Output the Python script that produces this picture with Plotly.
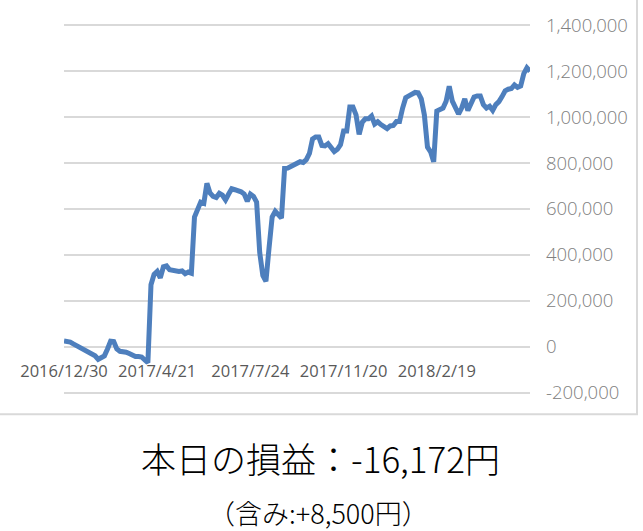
import plotly.graph_objects as go

# ---- data (values in yen) ----
profit_values = [
    25000, 23000, 20000, 12000, 5000, -4000, -10000, -15000, -22000, -30000,
    -40000, -55000, -45000, -40000, -10000, 24000, 22000, -10000, -20000, -20000,
    -24000, -30000, -37000, -43000, -43000, -45000, -58000, -70000, 270000, 315000,
    328000, 300000, 348000, 352000, 335000, 332000, 332000, 328000, 330000, 318000,
    325000, 320000, 565000, 595000, 630000, 625000, 712000, 670000, 655000, 650000,
    668000, 660000, 640000, 665000, 688000, 684000, 682000, 675000, 665000, 634000,
    665000, 655000, 630000, 410000, 310000, 285000, 430000, 565000, 590000, 575000,
    560000, 777000, 778000, 785000, 791000, 800000, 806000, 803000, 815000, 842000,
    905000, 914000, 914000, 877000, 875000, 885000, 871000, 850000, 860000, 880000,
    940000, 940000, 1045000, 1045000, 1010000, 925000, 978000, 993000, 993000, 1005000,
    970000, 980000, 968000, 957000, 950000, 962000, 964000, 981000, 981000, 1040000,
    1085000, 1093000, 1100000, 1108000, 1106000, 1080000, 1010000, 870000, 849000, 806000,
    1027000, 1032000, 1040000, 1070000, 1135000, 1070000, 1040000, 1014000, 1040000, 1080000,
    1029000, 1055000, 1088000, 1093000, 1093000, 1055000, 1040000, 1048000, 1030000, 1055000,
    1068000, 1090000, 1115000, 1122000, 1125000, 1141000, 1130000, 1136000, 1190000, 1215000,
    1200000,
]
x_index = list(range(len(profit_values)))

x_tick_index = [0, 30, 60, 90, 120]
x_tick_labels = ["2016/12/30", "2017/4/21", "2017/7/24", "2017/11/20", "2018/2/19"]

y_tick_values = [-200000, 0, 200000, 400000, 600000, 800000, 1000000, 1200000, 1400000]
y_tick_labels = ["-200,000", "0", "200,000", "400,000", "600,000", "800,000",
                 "1,000,000", "1,200,000", "1,400,000"]

title_main = "本日の損益：-16,172円"
title_sub = "（含み:+8,500円）"

# ---- figure ----
fig = go.Figure()
fig.add_trace(go.Scatter(
    x=x_index, y=profit_values, mode="lines",
    line=dict(color="#4e7fbd", width=5),
    hoverinfo="skip", showlegend=False,
))

Y0, Y1 = -215000, 1415000
top_px, bot_px = 22, 393
ppu = (bot_px - top_px) / 1600000.0
t_m = top_px - (Y1 - 1400000) * ppu
b_m = 531 - (bot_px + (-200000 - Y0) * ppu)
plot_h = 531 - t_m - b_m


def py(pix):
    return (531 - b_m - pix) / plot_h


fig.update_layout(
    width=643, height=531,
    margin=dict(l=64, r=113, t=t_m, b=b_m, pad=0),
    paper_bgcolor="white", plot_bgcolor="white",
    xaxis=dict(
        range=[0, len(profit_values) - 1],
        tickvals=x_tick_index, ticktext=x_tick_labels,
        showgrid=False, zeroline=False, showline=False,
        anchor="free", position=py(347),
        ticks="", ticklabelstandoff=12,
        tickfont=dict(family="Open Sans", size=16.5, color="#595959"),
    ),
    yaxis=dict(
        range=[Y0, Y1],
        tickvals=y_tick_values, ticktext=y_tick_labels,
        side="right",
        showgrid=True, gridcolor="#d9d9d9", gridwidth=2,
        zeroline=False, showline=False, ticks="",
        ticklabelstandoff=15,
        tickfont=dict(family="Open Sans", size=18.5, color="#808080", weight=300),
    ),
    shapes=[dict(
        type="rect", xref="paper", yref="paper",
        x0=-0.5, x1=(637 - 64) / 466, y0=py(415), y1=1.5,
        line=dict(color="#d9d9d9", width=2), fillcolor="rgba(0,0,0,0)",
        layer="below",
    )],
    annotations=[
        dict(text=title_main, xref="paper", yref="paper",
             x=(320 - 64) / 466, y=py(459), showarrow=False,
             xanchor="center", yanchor="middle",
             font=dict(family="Noto Sans CJK JP", size=35, color="#000000", weight=300)),
        dict(text=title_sub, xref="paper", yref="paper",
             x=(318 - 64) / 466, y=py(514), showarrow=False,
             xanchor="center", yanchor="middle",
             font=dict(family="Noto Sans CJK JP", size=27, color="#000000", weight=300)),
    ],
)

fig.write_html("out.html", config={"displayModeBar": False},
               post_script="document.body.style.margin='0';")
